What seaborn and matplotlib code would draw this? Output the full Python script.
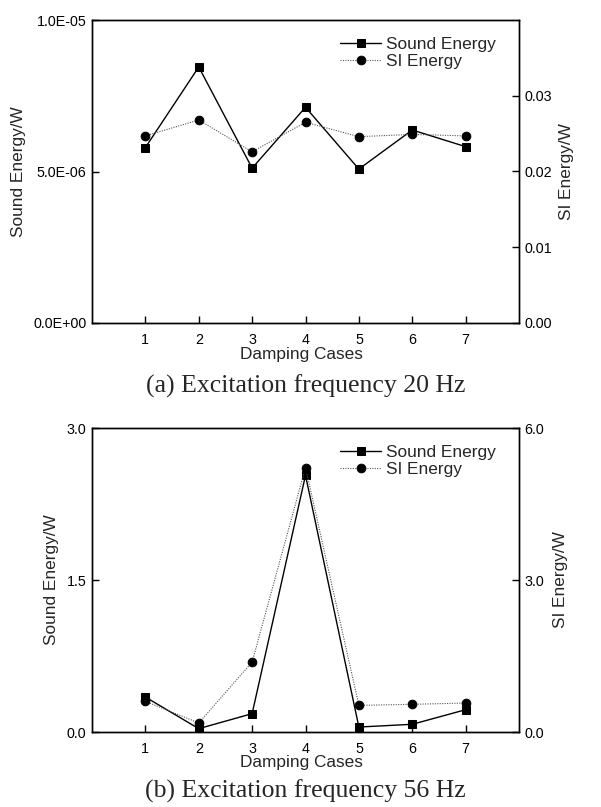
import matplotlib
matplotlib.use("Agg")
import matplotlib.pyplot as plt
import matplotlib.ticker as mticker
import seaborn as sns
import pandas as pd

# ---- data ----
cases = [1, 2, 3, 4, 5, 6, 7]
sound_20 = [5.79e-6, 8.45e-6, 5.11e-6, 7.12e-6, 5.08e-6, 6.37e-6, 5.82e-6]
si_20 = [0.0247, 0.0268, 0.0226, 0.0265, 0.0246, 0.0249, 0.0247]
sound_56 = [0.345, 0.033, 0.181, 2.533, 0.049, 0.076, 0.22]
si_56 = [0.605, 0.178, 1.38, 5.22, 0.526, 0.546, 0.572]
captions = ["(a) Excitation frequency 20 Hz", "(b) Excitation frequency 56 Hz"]
left_ticks = [[0, 5e-6, 1e-5], [0, 1.5, 3.0]]
right_ticks = [[0, 0.01, 0.02, 0.03], [0, 3.0, 6.0]]

sns.set_style("ticks")
plt.rcParams["font.family"] = ["Liberation Sans", "DejaVu Sans"]

W, H = 601, 807
fig = plt.figure(figsize=(W / 100, H / 100), dpi=100)
fig.patch.set_facecolor("white")


def fmt_sci(v, pos):
    return "%.1E" % v


panels = [
    dict(top=20, bot=323, sound=sound_20, si=si_20, lylim=(0, 1e-5), rylim=(0, 0.04),
         lfmt=mticker.FuncFormatter(fmt_sci), rfmt=mticker.FormatStrFormatter("%.2f"),
         lt=left_ticks[0], rt=right_ticks[0], ylx=19, yrx=567, cap_y=386,
         xlab_y=347, leg_top=37),
    dict(top=428, bot=732, sound=sound_56, si=si_56, lylim=(0, 3.0), rylim=(0, 6.0),
         lfmt=mticker.FormatStrFormatter("%.1f"), rfmt=mticker.FormatStrFormatter("%.1f"),
         lt=left_ticks[1], rt=right_ticks[1], ylx=52, yrx=561, cap_y=791,
         xlab_y=755, leg_top=445),
]

L, R = 92, 519
for i, p in enumerate(panels):
    ax = fig.add_axes([L / W, 1 - p["bot"] / H, (R - L) / W, (p["bot"] - p["top"]) / H])
    ax2 = ax.twinx()
    df = pd.DataFrame({"case": cases, "sound": p["sound"], "si": p["si"]})
    sns.lineplot(data=df, x="case", y="sound", ax=ax, color="black", lw=1.0,
                 marker="s", markersize=5.5, markeredgecolor="black", label="Sound Energy",
                 legend=False)
    sns.lineplot(data=df, x="case", y="si", ax=ax2, color="#555555", lw=0.8,
                 linestyle=(0, (1, 1.2)), marker="o", markersize=6.2,
                 markerfacecolor="black", markeredgecolor="black", label="SI Energy",
                 legend=False)
    ax.set_xlim(0, 8)
    ax.set_ylim(*p["lylim"])
    ax2.set_ylim(*p["rylim"])
    ax.set_xticks(cases)
    ax.set_yticks(p["lt"])
    ax2.set_yticks(p["rt"])
    ax.yaxis.set_major_formatter(p["lfmt"])
    ax2.yaxis.set_major_formatter(p["rfmt"])
    for a in (ax, ax2):
        for s in a.spines.values():
            s.set_visible(True)
            s.set_linewidth(1.0)
            s.set_color("black")
        a.tick_params(direction="in", length=5, width=1, labelsize=10.3, colors="black")
    ax.tick_params(axis="x", pad=7)
    ax.tick_params(axis="y", pad=4)
    ax2.tick_params(axis="y", pad=4)
    ax.set_xlabel("Damping Cases", fontsize=12.4)
    ax.set_ylabel("Sound Energy/W", fontsize=12.4)
    ax2.set_ylabel("SI Energy/W", fontsize=12.4)
    hgt = p["bot"] - p["top"]
    ax.xaxis.set_label_coords(0.49, -(p["xlab_y"] - p["bot"]) / hgt)
    ax.yaxis.set_label_coords((p["ylx"] - L) / (R - L), 0.5)
    ax2.yaxis.set_label_coords((p["yrx"] - L) / (R - L), 0.5)
    ax.yaxis.label.set_va("center")
    ax2.yaxis.label.set_va("center")

    h1, l1 = ax.get_legend_handles_labels()
    h2, l2 = ax2.get_legend_handles_labels()
    ax2.legend(h1 + h2, l1 + l2, loc="upper left",
               bbox_to_anchor=((340 - L) / (R - L), 1 - (p["leg_top"] - p["top"]) / hgt),
               frameon=False, fontsize=12.4, handlelength=2.4, handletextpad=0.3,
               borderpad=0, borderaxespad=0, labelspacing=0.1)

    fig.text(((L + R) / 2) / W, 1 - p["cap_y"] / H, captions[i],
             ha="center", va="center", fontsize=18.5, family=["Liberation Serif", "DejaVu Serif"])

fig.savefig("out.png", dpi=100, facecolor="white")
